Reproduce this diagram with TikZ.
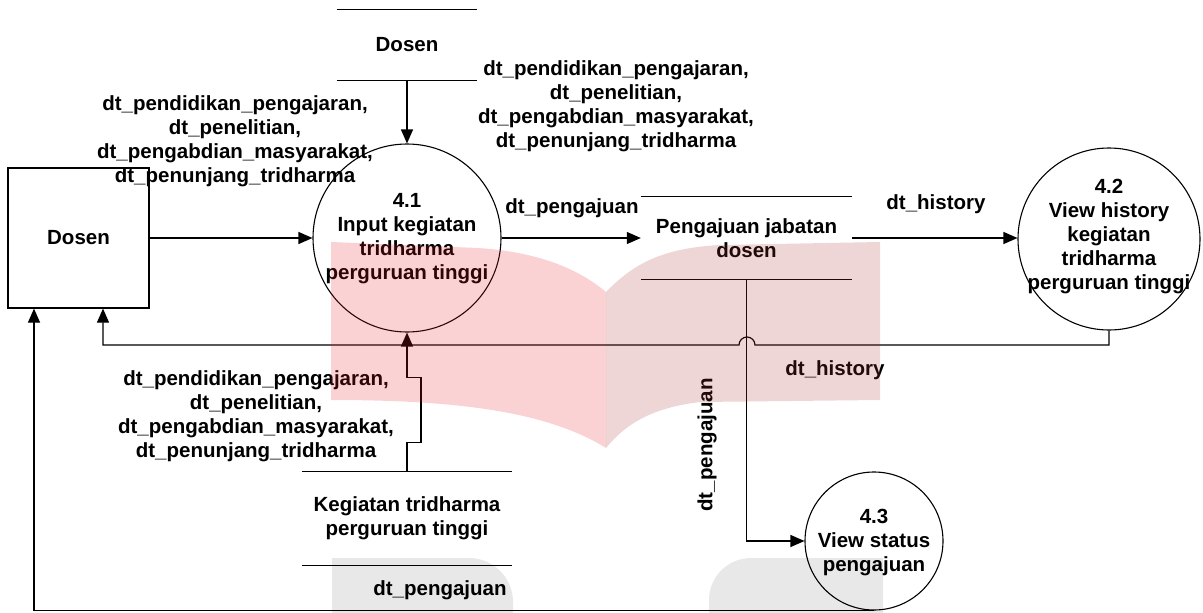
\documentclass[tikz,border=0pt]{standalone}
\usepackage{fontspec}
\setmainfont{Liberation Sans}
\usetikzlibrary{arrows.meta}
\definecolor{wmred}{RGB}{230,30,35}
\definecolor{wmrose}{RGB}{170,45,50}

\begin{document}
\begin{tikzpicture}[x=1pt,y=-1pt,
  every node/.style={font=\bfseries\fontsize{20.5}{24}\selectfont, inner sep=0pt},
  txt/.style={align=center},
  proc/.style={draw, circle, line width=1.1pt},
  entity/.style={draw, rectangle, line width=1.2pt, minimum width=141pt, minimum height=140pt},
  storebox/.style={rectangle, align=center},
  line/.style={line width=1.2pt},
  flow/.style={line width=1.2pt, -{Triangle[length=14pt,width=12pt]}},
]
\useasboundingbox (0,0) rectangle (1203,613);

% external entity
\node[entity] (dosen) at (78.5,238) {Dosen};

% data stores
\node[storebox, minimum width=140pt, minimum height=70pt] (dsTop) at (407,45) {Dosen};
\draw[line] (dsTop.north west) -- (dsTop.north east) (dsTop.south west) -- (dsTop.south east);

\node[storebox, minimum width=211pt, minimum height=82pt] (pj) at (746.5,238) {Pengajuan jabatan\\dosen};
\draw[line] (pj.north west) -- (pj.north east) (pj.south west) -- (pj.south east);

\node[storebox, minimum width=210pt, minimum height=93pt] (kg) at (407,518.5) {Kegiatan tridharma\\perguruan tinggi};
\draw[line] (kg.north west) -- (kg.north east) (kg.south west) -- (kg.south east);

% processes
\node[proc, minimum size=188pt] (p41) at (407,238) {};
\node[txt] at (407,238.5) {4.1\\Input kegiatan\\tridharma\\perguruan tinggi};

\node[proc, minimum size=182pt] (p42) at (1109,239) {};
\node[txt] at (1109,237) {4.2\\View history\\kegiatan\\tridharma\\perguruan tinggi};

\node[proc, minimum size=138pt] (p43) at (874,541) {};
\node[txt] at (874,543) {4.3\\View status\\pengajuan};

% data flows
\coordinate (hopR) at (755,345);
\draw[flow] (dsTop.south) -- (p41.north);
\draw[flow] (dosen.east) -- (p41.west);
\draw[flow] (p41.east) -- (pj.west);
\draw[flow] (pj.east) -- (pj.east -| p42.west);
\draw[flow] (p42.south) |- (hopR) arc[start angle=0,end angle=180,radius=8pt]
  -| ([xshift=24.5pt]dosen.south);
\draw[flow] (kg.north) -- ++(0,-29) -- ++(14,0) -- ++(0,-65) -- ++(-14,0) -- (p41.south);
\draw[flow] (pj.south) |- (p43.west);
\draw[flow] (p43.south) -| ([xshift=-44.5pt]dosen.south);

% flow labels
\node[txt] (lblA) at (235,141) {dt\_pendidikan\_pengajaran,\\dt\_penelitian,\\dt\_pengabdian\_masyarakat,\\dt\_penunjang\_tridharma};
\node[txt] (lblB) at (616,106) {dt\_pendidikan\_pengajaran,\\dt\_penelitian,\\dt\_pengabdian\_masyarakat,\\dt\_penunjang\_tridharma};
\node[txt] (lblC) at (256,416) {dt\_pendidikan\_pengajaran,\\dt\_penelitian,\\dt\_pengabdian\_masyarakat,\\dt\_penunjang\_tridharma};
\node (lblD) at (572,208) {dt\_pengajuan};
\node (lblE) at (936,204) {dt\_history};
\node (lblF) at (835,370) {dt\_history};
\node[rotate=90] (lblG) at (707,445) {dt\_pengajuan};
\node (lblH) at (440,590) {dt\_pengajuan};

% translucent emblem in the background
\begin{scope}[fill opacity=0.2]
  \fill[wmred] (331,242) -- (478,248) .. controls (540,252) and (580,270) .. (606,292)
    -- (606,448) .. controls (545,410) and (450,400) .. (331,400) -- cycle;
  \fill[wmrose] (606,292) .. controls (635,262) and (665,248) .. (720,245) -- (880,242)
    -- (880,400) -- (700,402) .. controls (650,408) and (625,425) .. (606,448) -- cycle;
\end{scope}
\begin{scope}[fill opacity=0.09]
  \fill[black] (332,613) -- (332,558) -- (469,558) arc[start angle=90,end angle=0,radius=44pt]
    -- (513,613) -- cycle;
  \fill[black] (709,613) -- (709,600) arc[start angle=180,end angle=90,radius=42pt]
    -- (883,558) -- (883,613) -- cycle;
\end{scope}
\end{tikzpicture}
\end{document}
